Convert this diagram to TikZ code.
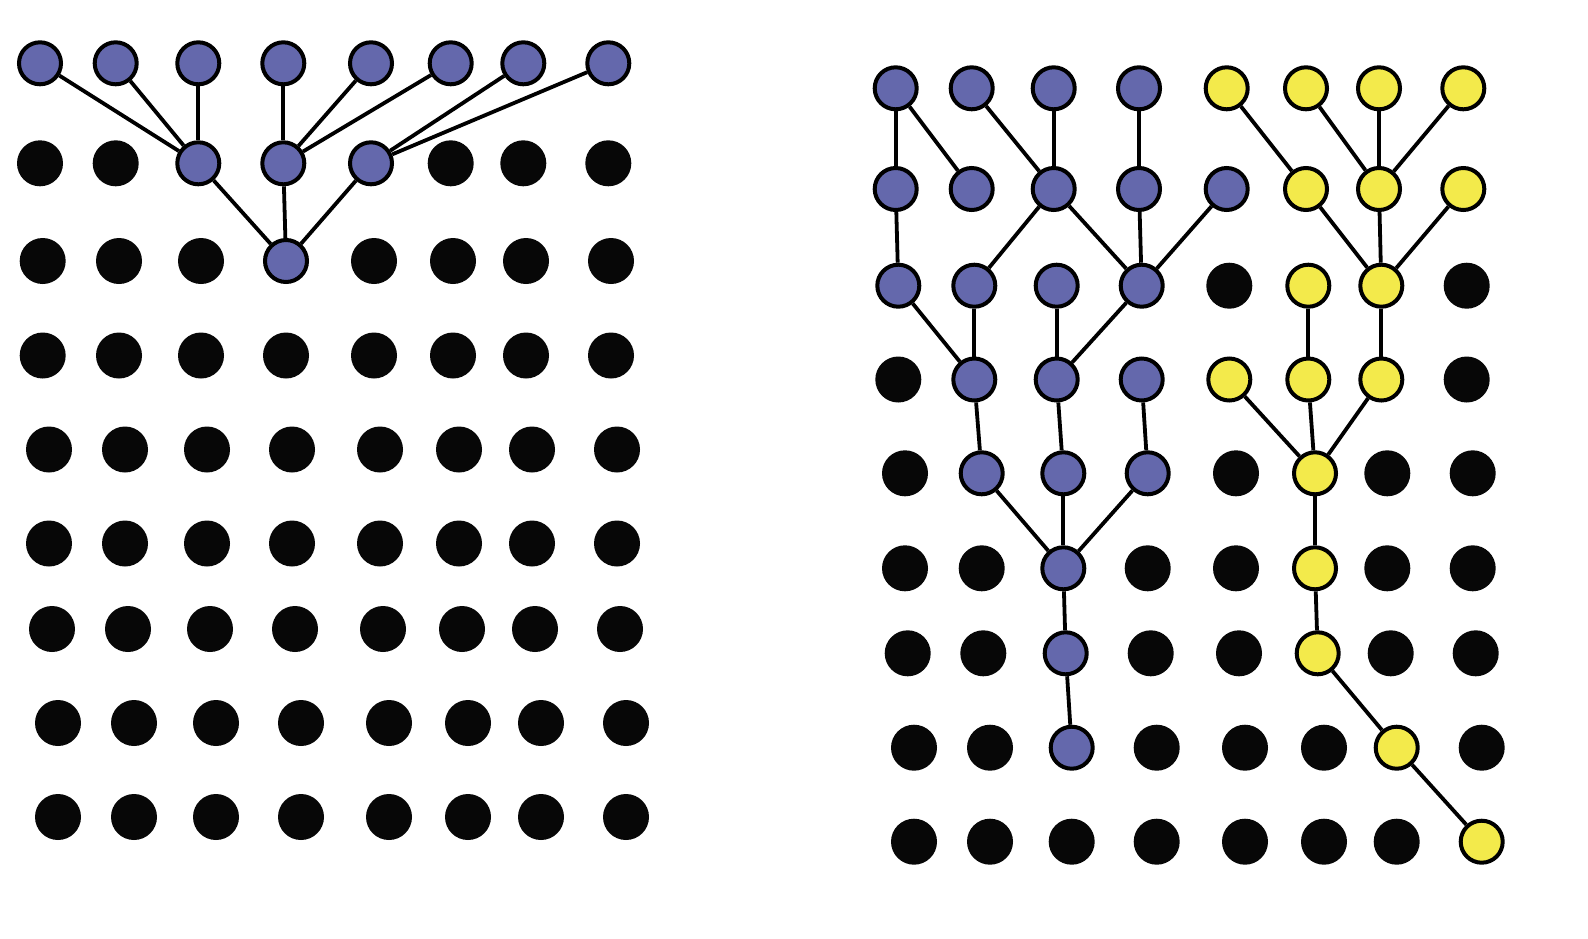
\documentclass[tikz,border=0pt]{standalone}
\definecolor{nodeblue}{HTML}{6468AC}
\definecolor{nodeyellow}{HTML}{F3EA4B}
\definecolor{dotblack}{HTML}{070707}
\begin{document}
\begin{tikzpicture}[x=1pt,y=-1pt,
  bnode/.style={circle,draw=black,line width=4pt,fill=nodeblue,minimum size=42pt,inner sep=0pt},
  ynode/.style={circle,draw=black,line width=4pt,fill=nodeyellow,minimum size=42pt,inner sep=0pt},
  knode/.style={circle,fill=dotblack,minimum size=46pt,inner sep=0pt},
  link/.style={line width=3.8pt,black}]
\useasboundingbox[fill=white] (0,0) rectangle (1588,938);
% ---------- left grid ----------
\foreach \c/\x/\s in {0/40/bnode,1/115.7/bnode,2/198.3/bnode,3/283.3/bnode,4/371/bnode,5/450.7/bnode,6/523.3/bnode,7/608.3/bnode}
  \node[\s] (L0-\c) at (\x,63.3) {};
\foreach \c/\x/\s in {0/40/knode,1/115.7/knode,2/198.3/bnode,3/283.3/bnode,4/371/bnode,5/450.7/knode,6/523.3/knode,7/608.3/knode}
  \node[\s] (L1-\c) at (\x,163.3) {};
\foreach \c/\x/\s in {0/42.7/knode,1/119/knode,2/201/knode,3/286/bnode,4/374/knode,5/453/knode,6/526/knode,7/611/knode}
  \node[\s] (L2-\c) at (\x,261) {};
\foreach \c/\x in {0/42.7,1/119,2/201,3/286,4/374,5/453,6/526,7/611}
  \node[knode] (L3-\c) at (\x,355.5) {};
\foreach \c/\x in {0/49,1/125,2/207,3/292,4/380,5/459,6/532,7/617}
  \node[knode] (L4-\c) at (\x,449.5) {};
\foreach \c/\x in {0/49,1/125,2/207,3/292,4/380,5/459,6/532,7/617}
  \node[knode] (L5-\c) at (\x,543.5) {};
\foreach \c/\x in {0/52,1/128,2/210,3/295,4/383,5/462,6/535,7/620}
  \node[knode] (L6-\c) at (\x,629) {};
\foreach \c/\x in {0/58,1/134,2/216,3/301,4/389,5/468,6/541,7/626}
  \node[knode] (L7-\c) at (\x,723) {};
\foreach \c/\x in {0/58,1/134,2/216,3/301,4/389,5/468,6/541,7/626}
  \node[knode] (L8-\c) at (\x,817) {};
\foreach \a/\b in {L0-0/L1-2,L0-1/L1-2,L0-2/L1-2,L0-3/L1-3,L0-4/L1-3,L0-5/L1-3,L0-6/L1-4,L0-7/L1-4,L1-2/L2-3,L1-3/L2-3,L1-4/L2-3}
  \draw[link] (\a) -- (\b);
% ---------- right grid ----------
\foreach \c/\x/\s in {0/895.7/bnode,1/971.7/bnode,2/1053.7/bnode,3/1139/bnode,4/1226.7/ynode,5/1306/ynode,6/1379/ynode,7/1463.3/ynode}
  \node[\s] (R0-\c) at (\x,88.3) {};
\foreach \c/\x/\s in {0/895.7/bnode,1/971.7/bnode,2/1053.7/bnode,3/1139/bnode,4/1226.7/bnode,5/1306/ynode,6/1379/ynode,7/1463.3/ynode}
  \node[\s] (R1-\c) at (\x,189) {};
\foreach \c/\x/\s in {0/898.3/bnode,1/974.3/bnode,2/1056.7/bnode,3/1141.7/bnode,4/1229.3/knode,5/1308.3/ynode,6/1381.3/ynode,7/1466.7/knode}
  \node[\s] (R2-\c) at (\x,285.7) {};
\foreach \c/\x/\s in {0/898.3/knode,1/974.3/bnode,2/1056.7/bnode,3/1141.7/bnode,4/1229.3/ynode,5/1308.3/ynode,6/1381.3/ynode,7/1466.7/knode}
  \node[\s] (R3-\c) at (\x,379.5) {};
\foreach \c/\x/\s in {0/905/knode,1/981.7/bnode,2/1063.3/bnode,3/1147.7/bnode,4/1236/knode,5/1315/ynode,6/1387.3/knode,7/1472.7/knode}
  \node[\s] (R4-\c) at (\x,473.3) {};
\foreach \c/\x/\s in {0/905/knode,1/981.7/knode,2/1063.3/bnode,3/1147.7/knode,4/1236/knode,5/1315/ynode,6/1387.3/knode,7/1472.7/knode}
  \node[\s] (R5-\c) at (\x,568.3) {};
\foreach \c/\x/\s in {0/907.7/knode,1/983.3/knode,2/1065.7/bnode,3/1150.7/knode,4/1239/knode,5/1317.7/ynode,6/1390.7/knode,7/1475.7/knode}
  \node[\s] (R6-\c) at (\x,653.3) {};
\foreach \c/\x/\s in {0/914/knode,1/990/knode,2/1071.7/bnode,3/1156.7/knode,4/1245/knode,5/1324/knode,6/1396.7/ynode,7/1481.7/knode}
  \node[\s] (R7-\c) at (\x,747.7) {};
\foreach \c/\x/\s in {0/914/knode,1/990/knode,2/1071.7/knode,3/1156.7/knode,4/1245/knode,5/1324/knode,6/1396.7/knode,7/1481.7/ynode}
  \node[\s] (R8-\c) at (\x,841.7) {};
\foreach \a/\b in {R0-0/R1-0,R0-0/R1-1,R0-1/R1-2,R0-2/R1-2,R0-3/R1-3,
  R1-0/R2-0,R1-2/R2-1,R1-2/R2-3,R1-3/R2-3,R1-4/R2-3,
  R2-0/R3-1,R2-1/R3-1,R2-2/R3-2,R2-3/R3-2,
  R3-1/R4-1,R3-2/R4-2,R3-3/R4-3,
  R4-1/R5-2,R4-2/R5-2,R4-3/R5-2,
  R5-2/R6-2,R6-2/R7-2,
  R0-4/R1-5,R0-5/R1-6,R0-6/R1-6,R0-7/R1-6,
  R1-5/R2-6,R1-6/R2-6,R1-7/R2-6,
  R2-5/R3-5,R2-6/R3-6,
  R3-4/R4-5,R3-5/R4-5,R3-6/R4-5,
  R4-5/R5-5,R5-5/R6-5,R6-5/R7-6,R7-6/R8-7}
  \draw[link] (\a) -- (\b);
\end{tikzpicture}
\end{document}
